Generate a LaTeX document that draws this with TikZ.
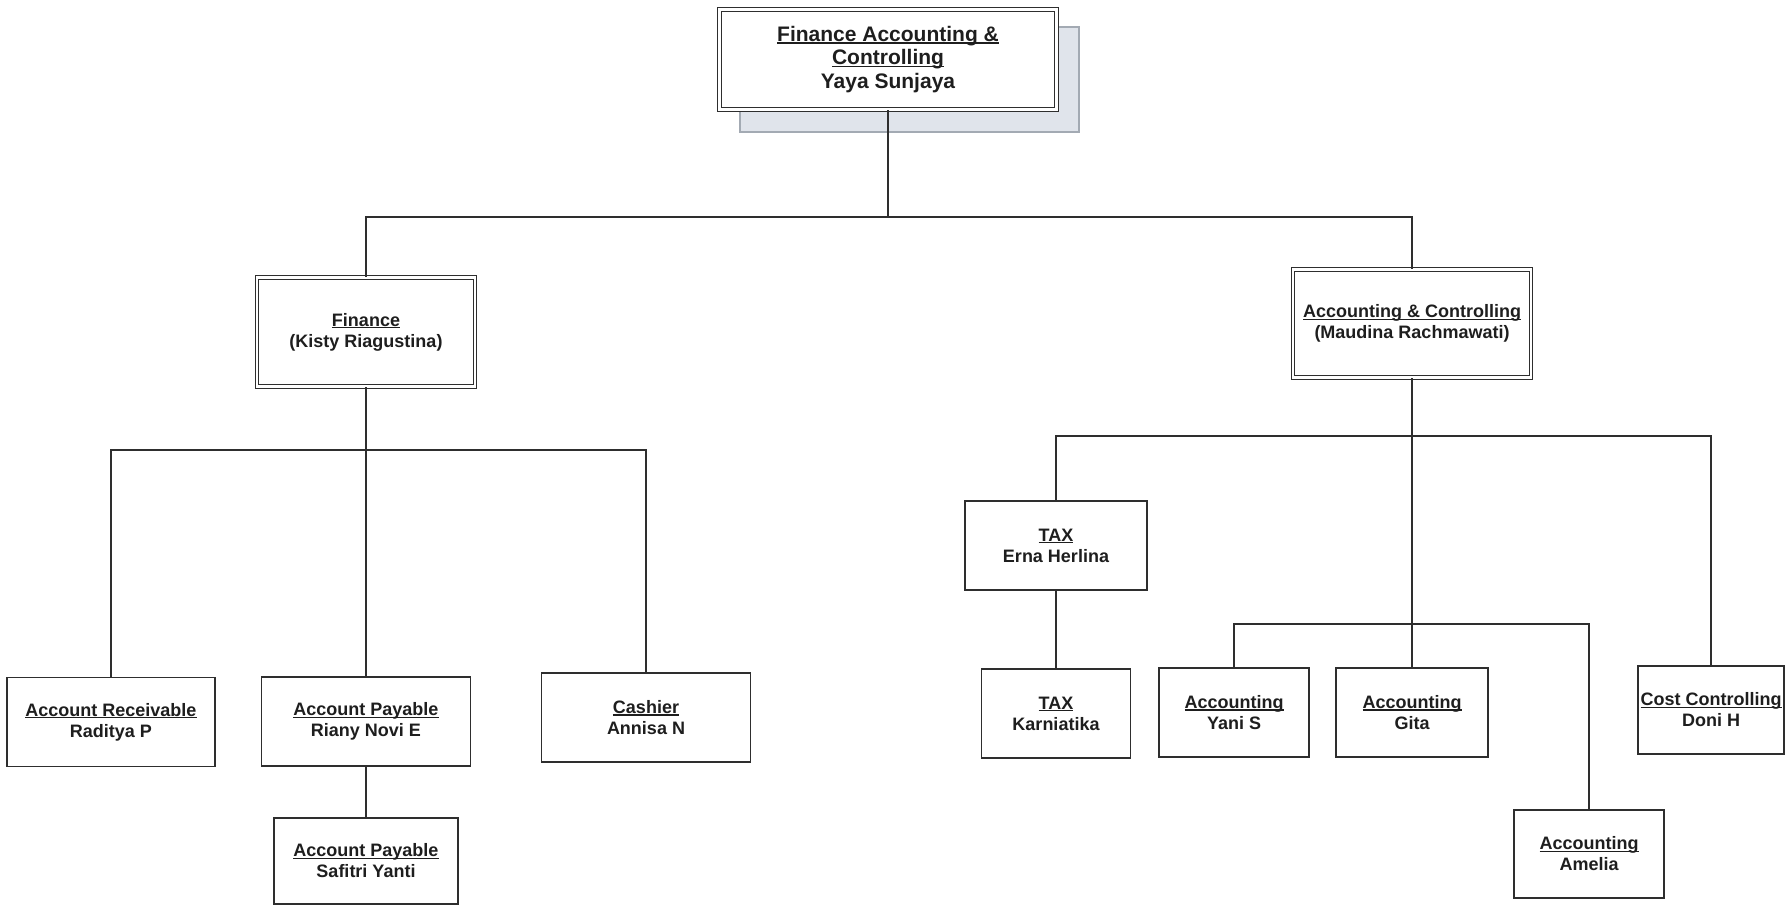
\documentclass[tikz,border=0pt]{standalone}
\usepackage{fontspec}
\setmainfont{Liberation Sans}
\newsavebox\ulbx
\newcommand\ulin[1]{\sbox\ulbx{#1}\usebox\ulbx\llap{\rule[-2.2pt]{\wd\ulbx}{1.3pt}}}
\definecolor{linec}{HTML}{2E2E2E}
\definecolor{txt}{HTML}{1E1E1E}
\definecolor{shfill}{HTML}{E0E4EB}
\definecolor{shdraw}{HTML}{A3AAB3}
\begin{document}
\begin{tikzpicture}[x=1pt,y=-1pt,
  box/.style={draw=linec, line width=1.6pt, fill=white, rectangle, inner sep=0pt,
    align=center, text=txt, font=\bfseries\fontsize{18}{21}\selectfont},
  dbox/.style={box, double=white, double distance=2.5pt, line width=1.2pt},
  conn/.style={draw=linec, line width=1.9pt}]
\useasboundingbox (0,0) rectangle (1785,906);
% shadow behind top box
\filldraw[fill=shfill, draw=shdraw, line width=2pt] (740,27) rectangle (1079,132);
% top
\node[dbox, minimum width=337pt, minimum height=100pt,
  font=\bfseries\fontsize{21}{23.5}\selectfont] (top) at (888,59.5)
  {\ulin{Finance Accounting \&}\\\ulin{Controlling}\\Yaya Sunjaya};
% level 2
\node[dbox, minimum width=218pt, minimum height=109pt] (fin) at (366,332)
  {\ulin{Finance}\\(Kisty Riagustina)};
\node[dbox, minimum width=238pt, minimum height=108pt] (ac) at (1412,323.5)
  {\ulin{Accounting \& Controlling}\\(Maudina Rachmawati)};
% finance children
\node[box, minimum width=208pt, minimum height=89pt] (ar) at (111,722)
  {\ulin{Account Receivable}\\Raditya P};
\node[box, minimum width=209pt, minimum height=89pt] (ap1) at (366,721.5)
  {\ulin{Account Payable}\\Riany Novi E};
\node[box, minimum width=184pt, minimum height=86pt] (ap2) at (366,861)
  {\ulin{Account Payable}\\Safitri Yanti};
\node[box, minimum width=209pt, minimum height=89pt] (cash) at (646,717.5)
  {\ulin{Cashier}\\Annisa N};
% accounting children
\node[box, minimum width=182pt, minimum height=89pt] (taxe) at (1056,545.5)
  {\ulin{TAX}\\Erna Herlina};
\node[box, minimum width=149pt, minimum height=89pt] (taxk) at (1056,713.5)
  {\ulin{TAX}\\Karniatika};
\node[box, minimum width=150pt, minimum height=89pt] (yani) at (1234,712.5)
  {\ulin{Accounting}\\Yani S};
\node[box, minimum width=152pt, minimum height=89pt] (gita) at (1412,712.5)
  {\ulin{Accounting}\\Gita};
\node[box, minimum width=150pt, minimum height=88pt] (amel) at (1589,854)
  {\ulin{Accounting}\\Amelia};
\node[box, minimum width=146pt, minimum height=88pt] (cost) at (1711,710)
  {\ulin{Cost Controlling}\\Doni H};
% buses
\coordinate (tbus) at (888,217);
\coordinate (fbus) at (366,450);
\coordinate (abus) at (1412,436);
\coordinate (sbus) at (1412,624);
% connectors
\draw[conn] (top.south) -- (tbus);
\draw[conn] (fin.north) |- (tbus) -| (ac.north);
\draw[conn] (fin.south) -- (ap1.north);
\draw[conn] (ar.north) |- (fbus) -| (cash.north);
\draw[conn] (ap1.south) -- (ap2.north);
\draw[conn] (ac.south) -- (gita.north);
\draw[conn] (taxe.north) |- (abus) -| (cost.north);
\draw[conn] (taxe.south) -- (taxk.north);
\draw[conn] (yani.north) |- (sbus) -| (amel.north);
\end{tikzpicture}
\end{document}
